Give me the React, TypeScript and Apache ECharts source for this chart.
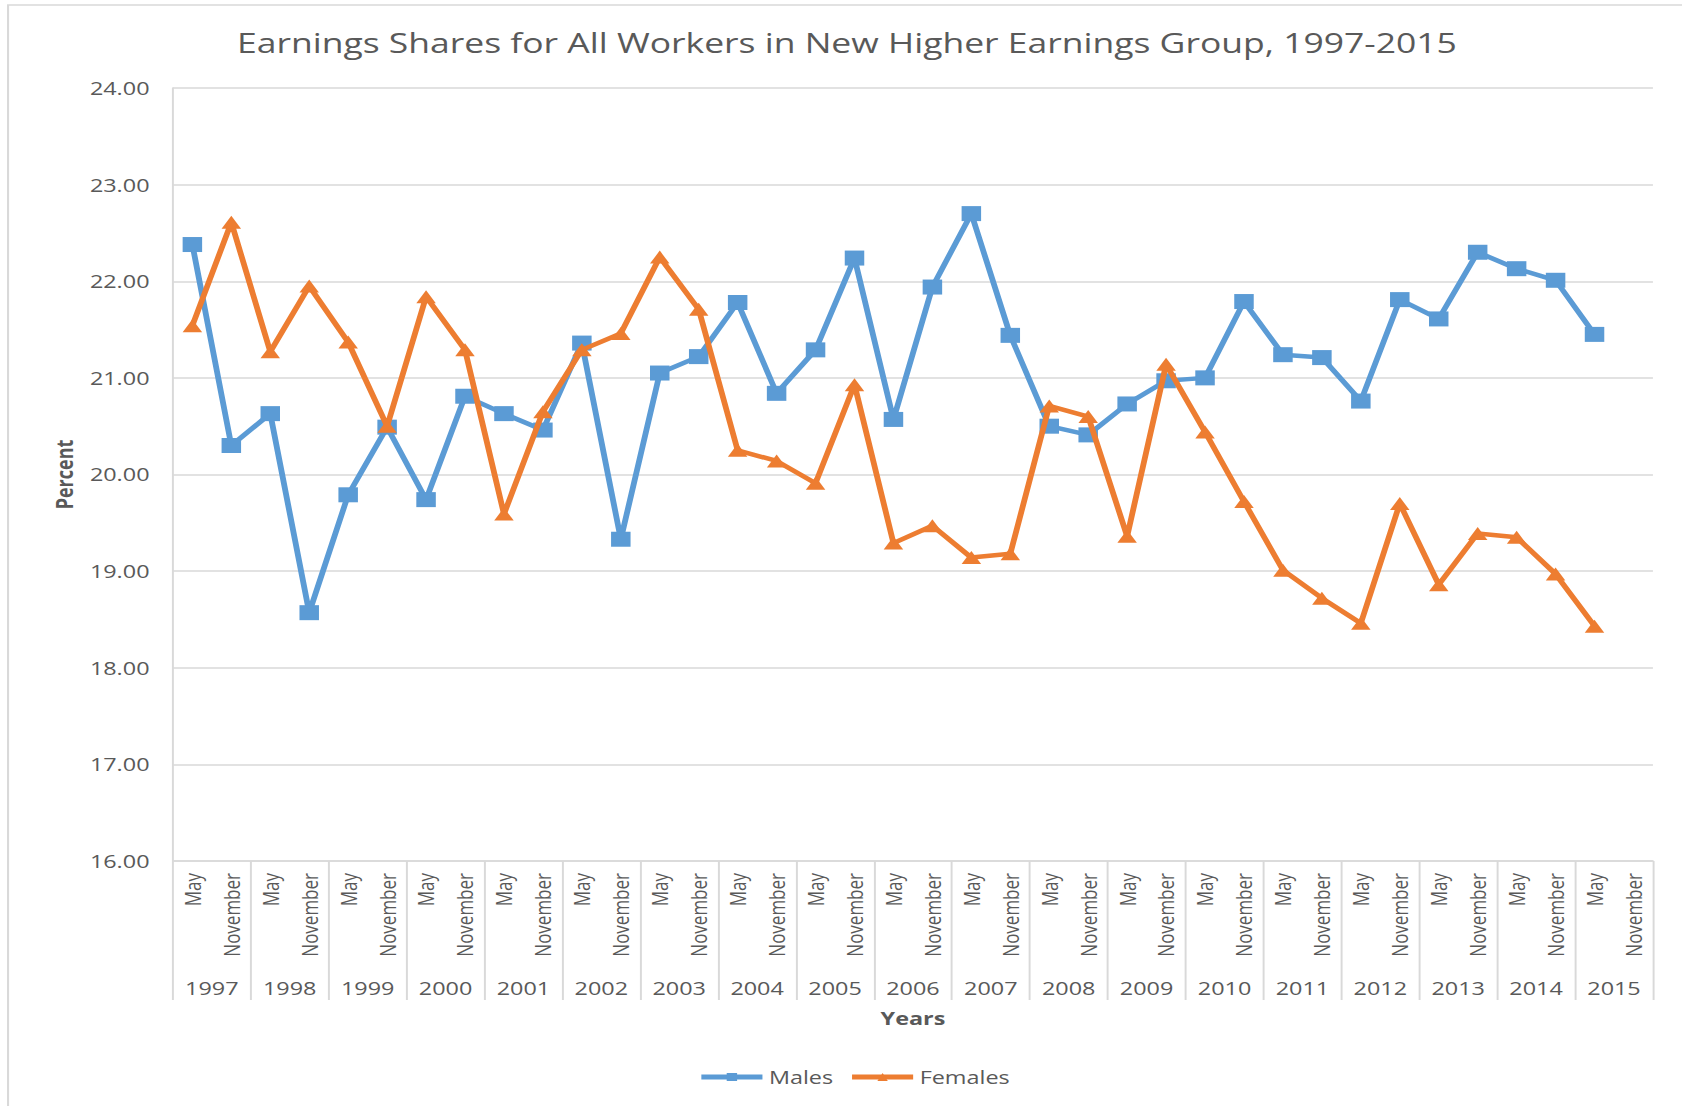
import React, { useEffect, useRef } from "react";
import * as echarts from "echarts";

const years = ["1997","1998","1999","2000","2001","2002","2003","2004","2005","2006","2007","2008","2009","2010","2011","2012","2013","2014","2015"];
const halves = ["May", "November"];
const males = [22.38, 20.30, 20.63, 18.57, 19.79, 20.49, 19.74, 20.81, 20.63, 20.46, 21.36, 19.33, 21.05, 21.22, 21.78, 20.84, 21.29, 22.24, 20.57, 21.94, 22.70, 21.44, 20.50, 20.41, 20.73, 20.97, 21.00, 21.79, 21.24, 21.21, 20.76, 21.81, 21.61, 22.30, 22.13, 22.01, 21.45, null];
const females = [21.54, 22.61, 21.27, 21.95, 21.37, 20.50, 21.84, 21.29, 19.59, 20.65, 21.29, 21.46, 22.25, 21.71, 20.25, 20.14, 19.91, 20.93, 19.29, 19.47, 19.14, 19.18, 20.71, 20.60, 19.36, 21.14, 20.44, 19.72, 19.01, 18.72, 18.46, 19.70, 18.86, 19.39, 19.35, 18.97, 18.43, null];
const yMin = 16;
const yMax = 24;
const yStep = 1;

const TITLE = "Earnings Shares for All Workers in New Higher Earnings Group, 1997-2015";
const STRETCH = 1.3;
const FULL_W = 1682;
const FULL_H = 1106;
const LOCAL_W = FULL_W / STRETCH;
const TEXT = "#595959";
const GRID = "#d9d9d9";
const FONT = "Open Sans";

export default function App() {
  const ref = useRef<HTMLDivElement>(null);
  useEffect(() => {
    if (!ref.current) return;
    const chart = echarts.init(ref.current, undefined, { renderer: "svg" });
    const monthCats: string[] = [];
    years.forEach(() => halves.forEach((h) => monthCats.push(h)));
    chart.setOption({
      animation: false,
      backgroundColor: "#ffffff",
      textStyle: { fontFamily: FONT, color: TEXT },
      title: {
        text: TITLE,
        left: 651.5,
        textAlign: "center",
        top: 29,
        padding: 0,
        textStyle: { fontFamily: FONT, fontSize: 27.3, fontWeight: "normal", color: TEXT },
      },
      graphic: [
        {
          type: "rect",
          shape: { x: 6.2, y: 5, width: 3000, height: 3000 },
          style: { fill: "none", stroke: GRID, lineWidth: 1.6 },
          silent: true,
          z: -10,
        },
      ],
      legend: {
        left: 532,
        top: 1063,
        itemWidth: 47,
        itemHeight: 10,
        itemGap: 12,
        lineStyle: { width: 5 },
        textStyle: { fontFamily: FONT, fontSize: 18, color: TEXT },
        data: ["Males", "Females"],
      },
      grid: { left: 133, right: 22.5, top: 88, bottom: 245, containLabel: false },
      xAxis: [
        {
          type: "category",
          data: monthCats,
          position: "bottom",
          boundaryGap: true,
          axisLine: { show: true, lineStyle: { color: GRID, width: 1.5 } },
          axisTick: { show: false },
          axisLabel: {
            interval: 0,
            rotate: 90,
            margin: 12,
            fontSize: 17,
            color: TEXT,
            fontFamily: FONT,
          },
        },
        {
          type: "category",
          data: years,
          position: "bottom",
          boundaryGap: true,
          axisLine: { show: false },
          axisTick: { show: true, interval: 0, length: 139, lineStyle: { color: GRID, width: 1.5 } },
          axisLabel: { interval: 0, margin: 118, fontSize: 18, color: TEXT, fontFamily: FONT },
          name: "Years",
          nameLocation: "middle",
          nameGap: 148,
          nameTextStyle: { fontFamily: FONT, fontSize: 18, fontWeight: "bold", color: TEXT },
        },
      ],
      yAxis: {
        type: "value",
        min: yMin,
        max: yMax,
        interval: yStep,
        axisLine: { show: true, lineStyle: { color: GRID, width: 1.5 } },
        axisTick: { show: false },
        splitLine: { show: true, lineStyle: { color: GRID, width: 1.5 } },
        axisLabel: {
          margin: 18,
          fontSize: 18,
          color: TEXT,
          fontFamily: FONT,
          formatter: (v: number) => v.toFixed(2),
        },
        name: "Percent",
        nameLocation: "middle",
        nameGap: 75,
        nameTextStyle: { fontFamily: FONT, fontSize: 18, fontWeight: "bold", color: TEXT },
      },
      series: [
        {
          name: "Males",
          type: "line",
          xAxisIndex: 0,
          data: males,
          symbol: "rect",
          symbolSize: 15,
          lineStyle: { color: "#5b9bd5", width: 4.5 },
          itemStyle: { color: "#5b9bd5" },
          z: 2,
        },
        {
          name: "Females",
          type: "line",
          xAxisIndex: 0,
          data: females,
          symbol: "triangle",
          symbolSize: [15, 13],
          lineStyle: { color: "#ed7d31", width: 4.5 },
          itemStyle: { color: "#ed7d31" },
          z: 3,
        },
      ],
    });
    return () => chart.dispose();
  }, []);

  return (
    <div
      style={{
        position: "absolute",
        left: 0,
        top: 0,
        width: FULL_W,
        height: FULL_H,
        overflow: "hidden",
        background: "#ffffff",
      }}
    >
      <div
        ref={ref}
        style={{
          width: LOCAL_W,
          height: FULL_H,
          transform: `scaleX(${STRETCH})`,
          transformOrigin: "0 0",
        }}
      />
    </div>
  );
}
